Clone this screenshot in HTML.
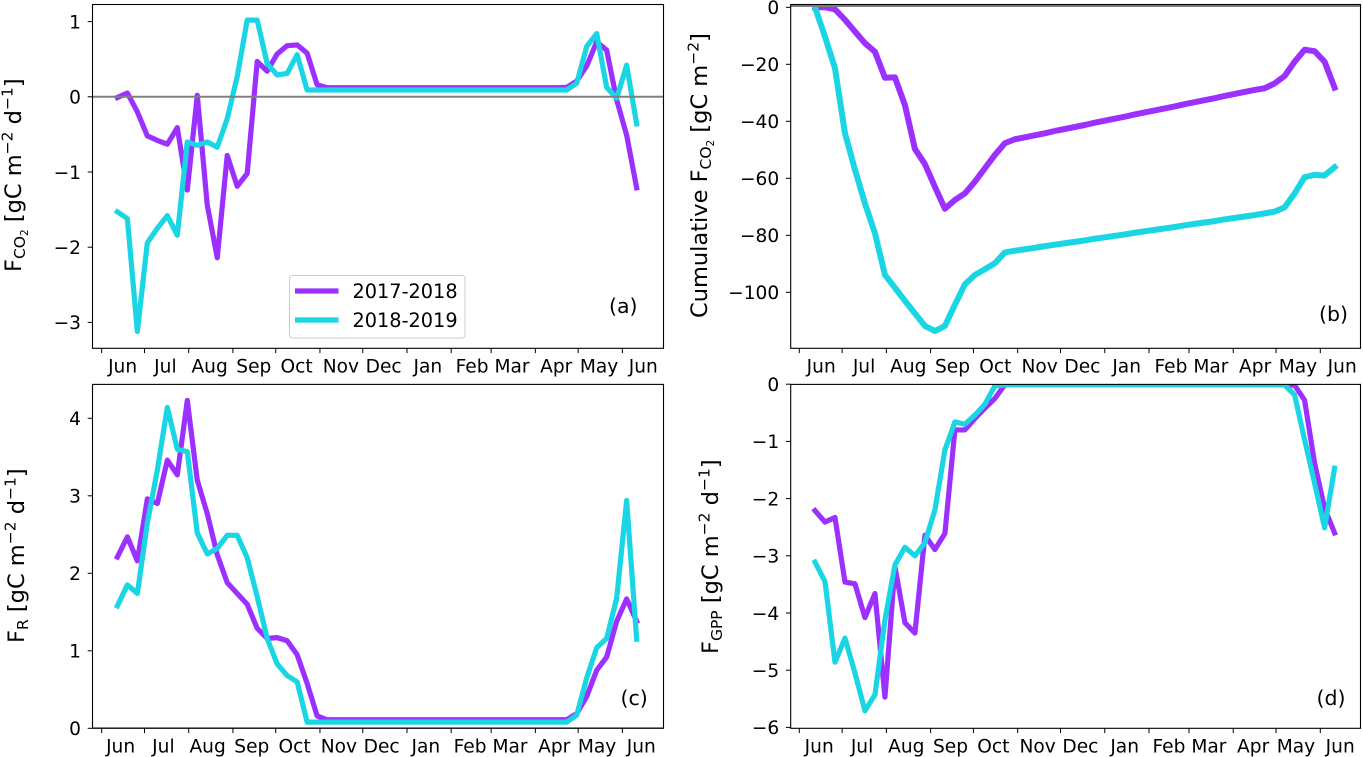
<!DOCTYPE html>
<html lang="en">
<head>
<meta charset="utf-8">
<title>CO2 flux panels</title>
<style>
  html, body { margin: 0; padding: 0; background: #fff; }
  svg { display: block; font-family: "DejaVu Sans", "Liberation Sans", sans-serif; fill: #000; }
</style>
</head>
<body>
<svg id="figure" width="1363" height="757" viewBox="0 0 1363 757" xmlns="http://www.w3.org/2000/svg">
  <g id="plots"></g>

  <text transform="translate(21,272) rotate(-90)" font-size="22.5">F<tspan font-size="15.5" dy="4">CO</tspan><tspan font-size="10.5" dy="3">2</tspan><tspan dy="-7"> [gC m</tspan><tspan font-size="15.5" dy="-8.5">−2</tspan><tspan dy="8.5"> d</tspan><tspan font-size="15.5" dy="-8.5">−1</tspan><tspan dy="8.5">]</tspan></text>
  <text transform="translate(707,318) rotate(-90)" font-size="22.5">Cumulative F<tspan font-size="15.5" dy="4">CO</tspan><tspan font-size="10.5" dy="3">2</tspan><tspan dy="-7"> [gC m</tspan><tspan font-size="15.5" dy="-8.5">−2</tspan><tspan dy="8.5">]</tspan></text>
  <text transform="translate(24,643) rotate(-90)" font-size="22.5">F<tspan font-size="15.5" dy="4">R</tspan><tspan dy="-4"> [gC m</tspan><tspan font-size="15.5" dy="-8.5">−2</tspan><tspan dy="8.5"> d</tspan><tspan font-size="15.5" dy="-8.5">−1</tspan><tspan dy="8.5">]</tspan></text>
  <text transform="translate(718,654) rotate(-90)" font-size="22.5">F<tspan font-size="15.5" dy="4">GPP</tspan><tspan dy="-4"> [gC m</tspan><tspan font-size="15.5" dy="-8.5">−2</tspan><tspan dy="8.5"> d</tspan><tspan font-size="15.5" dy="-8.5">−1</tspan><tspan dy="8.5">]</tspan></text>

  <text x="609" y="313" font-size="20.5">(a)</text>
  <text x="1319" y="321" font-size="20.5">(b)</text>
  <text x="620.5" y="705" font-size="20.5">(c)</text>
  <text x="1316.5" y="705" font-size="20.5">(d)</text>

  <g id="legend">
    <rect x="289.5" y="275.5" width="175.5" height="62.5" rx="3" fill="#fff" fill-opacity="0.8" stroke="#cccccc" stroke-width="1"></rect>
    <line x1="295" y1="291" x2="338.5" y2="291" stroke="#9b30ff" stroke-width="5.2"></line>
    <text x="352.5" y="298" font-size="19.3">2017-2018</text>
    <line x1="295" y1="320" x2="338.5" y2="320" stroke="#1ad5e3" stroke-width="5.2"></line>
    <text x="352.5" y="327" font-size="19.3">2018-2019</text>
  </g>
</svg>

<script>
const monthLabels = ["Jun","Jul","Aug","Sep","Oct","Nov","Dec","Jan","Feb","Mar","Apr","May","Jun"];
const monthStartDays = [0,30,61,92,122,153,183,214,245,273,304,334,365];
const monthLabelDays = [15,45,76,107,137,168,198,229,260,288,319,349,380];
const firstSampleDay = 11;
const sampleStepDays = 7;

const fco2Ticks = [1,0,-1,-2,-3];
const fco2Tick17 = [
  -0.01,0.05,-0.2,-0.52,-0.58,-0.63,-0.41,-1.24,0.02,-1.44,-2.14,-0.78,-1.19,-1.02,0.47,0.34,0.57,0.68,0.69,0.58,0.16,
  0.12,0.12,0.12,0.12,0.12,0.12,0.12,0.12,0.12,0.12,0.12,0.12,0.12,0.12,0.12,0.12,0.12,0.12,0.12,0.12,0.12,0.12,0.12,0.12,
  0.125,0.21,0.41,0.73,0.62,-0.04,-0.51,-1.21
];
const fco2Tick18 = [
  -1.53,-1.62,-3.12,-1.94,-1.75,-1.58,-1.84,-0.6,-0.645,-0.6,-0.67,-0.29,0.27,1.02,1.02,0.44,0.29,0.31,0.56,
  0.09,0.09,0.09,0.09,0.09,0.09,0.09,0.09,0.09,0.09,0.09,0.09,0.09,0.09,0.09,0.09,0.09,0.09,0.09,0.09,0.09,0.09,0.09,0.09,0.09,0.09,
  0.09,0.18,0.67,0.84,0.125,-0.02,0.42,-0.36
];

const cumulativeTicks = [0,-20,-40,-60,-80,-100];
const cumulative17 = [
  0,0,-0.7,-4.4,-8.5,-12.6,-15.6,-24.7,-24.6,-34.3,-49.7,-55,-63,-70.7,-67.6,-65.3,-61.2,-56.5,-51.8,-47.7,
  -46.3,-45.6,-44.9,-44.2,-43.4,-42.7,-42,-41.3,-40.5,-39.8,-39.1,-38.4,-37.6,-36.9,-36.2,-35.5,-34.8,-34,-33.3,-32.6,-31.9,-31.1,-30.4,-29.7,-29,
  -28.4,-26.7,-24.1,-19.1,-14.9,-15.4,-19.1,-28.2
];
const cumulative18 = [
  0,-10.3,-21.4,-44.2,-57,-68.8,-79.3,-93.9,-98.4,-103,-107.4,-111.8,-113.6,-111.8,-104.4,-97.2,-93.9,-91.9,-89.8,-86,
  -85.4,-84.9,-84.4,-83.8,-83.3,-82.8,-82.3,-81.8,-81.2,-80.7,-80.2,-79.7,-79.1,-78.6,-78.1,-77.6,-77.1,-76.5,-76,-75.5,-75,-74.4,-73.9,-73.4,-72.9,
  -72.3,-71.7,-70.2,-65.3,-59.6,-58.8,-59,-56.1
];

const frTicks = [4,3,2,1,0];
const fr17 = [
  2.21,2.47,2.16,2.96,2.9,3.46,3.27,4.23,3.2,2.77,2.24,1.88,1.74,1.6,1.29,1.16,1.17,1.13,0.95,0.58,0.16,
  0.11,0.11,0.11,0.11,0.11,0.11,0.11,0.11,0.11,0.11,0.11,0.11,0.11,0.11,0.11,0.11,0.11,0.11,0.11,0.11,0.11,0.11,0.11,0.11,
  0.11,0.19,0.41,0.75,0.92,1.38,1.67,1.38
];
const fr18 = [
  1.58,1.85,1.74,2.65,3.33,4.14,3.6,3.57,2.52,2.25,2.32,2.49,2.49,2.2,1.7,1.16,0.83,0.68,0.6,
  0.08,0.08,0.08,0.08,0.08,0.08,0.08,0.08,0.08,0.08,0.08,0.08,0.08,0.08,0.08,0.08,0.08,0.08,0.08,0.08,0.08,0.08,0.08,0.08,0.08,0.08,
  0.08,0.17,0.65,1.04,1.16,1.68,2.94,1.15
];

const gppTicks = [0,-1,-2,-3,-4,-5,-6];
const gpp17 = [
  -2.21,-2.41,-2.33,-3.46,-3.49,-4.08,-3.66,-5.47,-3.19,-4.17,-4.35,-2.64,-2.89,-2.61,-0.8,-0.8,-0.6,-0.42,-0.25,
  -0.01,-0.01,-0.01,-0.01,-0.01,-0.01,-0.01,-0.01,-0.01,-0.01,-0.01,-0.01,-0.01,-0.01,-0.01,-0.01,-0.01,-0.01,-0.01,-0.01,-0.01,-0.01,-0.01,-0.01,-0.01,-0.01,-0.01,-0.01,-0.01,
  -0.02,-0.28,-1.38,-2.17,-2.6
];
const gpp18 = [
  -3.11,-3.45,-4.86,-4.44,-5.05,-5.71,-5.43,-4.12,-3.16,-2.85,-3,-2.77,-2.2,-1.15,-0.66,-0.7,-0.54,-0.35,-0.03,
  -0.01,-0.01,-0.01,-0.01,-0.01,-0.01,-0.01,-0.01,-0.01,-0.01,-0.01,-0.01,-0.01,-0.01,-0.01,-0.01,-0.01,-0.01,-0.01,-0.01,-0.01,-0.01,-0.01,-0.01,-0.01,-0.01,-0.01,-0.01,-0.01,
  -0.19,-0.97,-1.73,-2.51,-1.47
];

const NS = 'http://www.w3.org/2000/svg';
const plots = document.getElementById('plots');

function make(tag, parent, attrs) {
  const el = document.createElementNS(NS, tag);
  for (const k in attrs) el.setAttribute(k, attrs[k]);
  parent.appendChild(el);
  return el;
}

function drawPanel(p) {
  const xScale = day => p.tick0 + day * p.pxPerDay;
  const yScale = v => p.zeroY - v * p.pxPerUnit;

  const g = make('g', plots, {});
  
  

  const clip = make('clipPath', g, { id: 'clip-' + p.id });
  make('rect', clip, { x: p.left, y: p.top, width: p.right - p.left, height: p.bottom - p.top });

  const marks = make('g', g, { 'clip-path': 'url(#clip-' + p.id + ')' });
  
  

  p.series.forEach(s => {
    const pts = s.values.map((v, i) => xScale(firstSampleDay + i * sampleStepDays).toFixed(2) + ',' + yScale(v).toFixed(2)).join(' ');
    const line = make('polyline', marks, {
      points: pts, fill: 'none', stroke: s.color, 'stroke-width': p.lineWidth,
      'stroke-linejoin': 'round', 'stroke-linecap': 'square'
    });
    
    
  });

  if (p.refValue !== null) {
    const ref = make('line', marks, {
      x1: p.left, x2: p.right, y1: yScale(p.refValue), y2: yScale(p.refValue),
      stroke: '#808080', 'stroke-width': 2
    });
    
    
  }

  const frame = make('rect', g, {
    x: p.left, y: p.top, width: p.right - p.left, height: p.bottom - p.top,
    fill: 'none', stroke: '#000', 'stroke-width': 1.1
  });
  
  

  monthStartDays.forEach(d => {
    const t = make('line', g, {
      x1: xScale(d), x2: xScale(d), y1: p.bottom, y2: p.bottom + 4.8, stroke: '#000', 'stroke-width': 1
    });
    
    
  });

  monthLabels.forEach((label, i) => {
    const t = make('text', g, {
      x: xScale(monthLabelDays[i]) + p.labelShift, y: p.bottom + 24.3,
      'text-anchor': 'middle', 'font-size': 18.6
    });
    t.textContent = label;
    
    
  });

  p.ticks.forEach(v => {
    const y = yScale(v);
    const t = make('line', g, { x1: p.left - 4.8, x2: p.left, y1: y, y2: y, stroke: '#000', 'stroke-width': 1 });
    
    
    const lab = make('text', g, {
      x: p.left - 11.5, y: y + 6.8, 'text-anchor': 'end', 'font-size': 18.6
    });
    lab.textContent = v < 0 ? '\u2212' + Math.abs(v) : String(v);
    
    
  });
}

const purple = '#9b30ff';
const cyan = '#1ad5e3';

drawPanel({
  id: 'a', left: 92.5, right: 663.5, top: 4.5, bottom: 348.3,
  tick0: 101.7, pxPerDay: 1.4265, zeroY: 96.8, pxPerUnit: 75.2,
  labelShift: -0.5, lineWidth: 5.2, refValue: 0, ticks: fco2Ticks,
  series: [
    { name: '2017-2018', color: purple, values: fco2Tick17 },
    { name: '2018-2019', color: cyan, values: fco2Tick18 }
  ]
});
drawPanel({
  id: 'b', left: 790.7, right: 1360.5, top: 4.5, bottom: 348.3,
  tick0: 799.3, pxPerDay: 1.4274, zeroY: 7.3, pxPerUnit: 2.85,
  labelShift: 0.5, lineWidth: 6, refValue: 0.45, ticks: cumulativeTicks,
  series: [
    { name: '2017-2018', color: purple, values: cumulative17 },
    { name: '2018-2019', color: cyan, values: cumulative18 }
  ]
});
drawPanel({
  id: 'c', left: 92.5, right: 663.5, top: 384.4, bottom: 728.3,
  tick0: 101.7, pxPerDay: 1.4265, zeroY: 728.3, pxPerUnit: 77.5,
  labelShift: -2.5, lineWidth: 5.2, refValue: 0, ticks: frTicks,
  series: [
    { name: '2017-2018', color: purple, values: fr17 },
    { name: '2018-2019', color: cyan, values: fr18 }
  ]
});
drawPanel({
  id: 'd', left: 790.7, right: 1360.5, top: 384.4, bottom: 728.3,
  tick0: 799.3, pxPerDay: 1.4274, zeroY: 384.2, pxPerUnit: 57.2,
  labelShift: -1.5, lineWidth: 5.2, refValue: null, ticks: gppTicks,
  series: [
    { name: '2017-2018', color: purple, values: gpp17 },
    { name: '2018-2019', color: cyan, values: gpp18 }
  ]
});
</script>
</body>
</html>
